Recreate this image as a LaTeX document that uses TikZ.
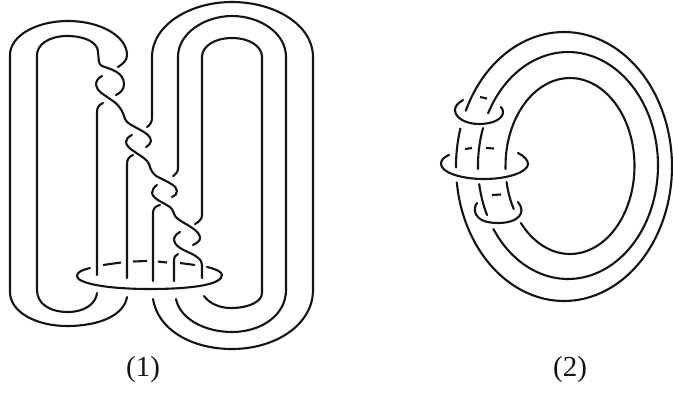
\documentclass[tikz,border=0pt]{standalone}
\usepackage{fontspec}
\setmainfont{Liberation Serif}
\tikzset{
  knot/.style={line width=2.1pt,black!92,line cap=round,line join=round},
  ringback/.style={line width=2.1pt,black!92,line cap=butt},
  caption/.style={font=\fontsize{29}{32}\selectfont,inner sep=0pt,text=black!92}
}
\newcommand{\ellarc}[6]{plot[smooth,domain=#5:#6,samples=60] ({#1+#3*cos(\x)},{#2+#4*sin(\x)})}
\begin{document}
\begin{tikzpicture}[x=1pt,y=-1pt]
\useasboundingbox (0,0) rectangle (673,392);
\fill[white] (0,0) rectangle (673,392);
% ---- figure 1: left outer and inner bands
\draw[knot] (118,67) .. controls (124,63) and (127,60) .. (127,55) .. controls (127,36) and (100,21) .. (68,21) .. controls (36,21) and (10,36) .. (10,55) -- (10,292) .. controls (10,312) and (36,326) .. (67,326) .. controls (100,326) and (124,315) .. (127,297);
\draw[knot] (97,293) .. controls (96,304) and (84,312) .. (68,312) .. controls (50,312) and (37,304) .. (37,290) -- (37,55) .. controls (37,44) and (50,36) .. (67,36) .. controls (84,36) and (98,42) .. (98,52) .. controls (99,60) and (98,64) .. (102,66) .. controls (110,69) and (124,72) .. (124,84) .. controls (124,90) and (120,93) .. (116,95);
% ---- twists
\draw[knot] (102,76) .. controls (98,78) and (96,81) .. (96,85) .. controls (97,92) and (105,95) .. (110,99) .. controls (120,105) and (123,112) .. (125,119) .. controls (128,127) and (151,131) .. (151,141) .. controls (151,143) and (149,145) .. (146,147);
\draw[knot] (103,103) .. controls (99,105) and (97,107) .. (97,112) -- (97,275);
\draw[knot] (132,135) .. controls (128,137) and (126,139) .. (126,142) .. controls (126,150) and (146,156) .. (149,164) .. controls (151,171) and (153,175) .. (160,178) .. controls (168,182) and (177,186) .. (177,191) .. controls (177,194) and (175,196) .. (172,197);
\draw[knot] (133,155) .. controls (129,157) and (127,159) .. (127,164) -- (127,278);
\draw[knot] (157,185) .. controls (154,187) and (152,190) .. (152,193) .. controls (153,200) and (168,204) .. (172,209) .. controls (174,213) and (174,216) .. (178,219) .. controls (186,225) and (200,230) .. (200,238) .. controls (200,241) and (197,243) .. (193,245);
\draw[knot] (160,205) .. controls (156,206) and (153,208) .. (153,213) -- (153,281);
\draw[knot] (180,232) .. controls (176,234) and (174,237) .. (174,240) .. controls (175,249) and (191,252) .. (197,257) .. controls (201,260) and (202,262) .. (202,265) -- (202,278);
\draw[knot] (178,254) .. controls (175,255) and (174,257) .. (174,262) -- (174,281);
% ---- figure 1: right bands
\draw[knot] (147,127) .. controls (150,125) and (152,122) .. (152,118) -- (152,57) .. controls (152,25) and (190,2) .. (232,2) .. controls (275,2) and (313,25) .. (313,57) -- (313,290) .. controls (313,325) and (275,349) .. (232,349) .. controls (192,349) and (158,330) .. (153,299);
\draw[knot] (173,176) .. controls (176,174) and (178,172) .. (178,168) -- (178,57) .. controls (178,33) and (205,16) .. (232,16) .. controls (260,16) and (286,33) .. (286,57) -- (286,290) .. controls (286,316) and (260,332) .. (232,332) .. controls (205,332) and (180,319) .. (176,299);
\draw[knot] (195,224) .. controls (199,222) and (202,219) .. (202,215) -- (202,57) .. controls (202,46) and (215,38) .. (232,38) .. controls (249,38) and (262,46) .. (262,57) -- (262,293) .. controls (262,302) and (248,308) .. (231,308) .. controls (219,308) and (209,303) .. (204,296);
% ---- ring of figure 1
\draw[knot] (90,268) .. controls (82,270) and (77,272) .. (77,276) .. controls (77,283) and (105,289) .. (150,289) .. controls (195,289) and (222,284) .. (222,275) .. controls (222,272) and (216,269) .. (207,267);
\draw[ringback] (103,265) -- (121,262.5);
\draw[ringback] (133,261.5) -- (147,261);
\draw[ringback] (158,261.5) -- (167,262.5);
\draw[ringback] (180,263) -- (195,265);
% ---- figure 2: ellipses
\draw[knot] \ellarc{564}{166.5}{108}{134.5}{204.5}{533.2};
\draw[knot] \ellarc{564}{166.5}{108}{134.5}{179.6}{196.4};
\draw[knot] \ellarc{568}{165.5}{90}{113.5}{207.4}{506};
\draw[knot] \ellarc{568}{165.5}{90}{113.5}{178.2}{199.3};
\draw[knot] \ellarc{568}{165.5}{90}{113.5}{154.1}{170.6};
\draw[knot] \ellarc{570}{166}{64.5}{88}{178}{499.6};
\draw[knot] \ellarc{570}{166}{64.5}{88}{150.7}{169.5};
% ---- figure 2: rings
\draw[knot] (463,100) .. controls (458,103) and (455,106) .. (455,110) .. controls (455,118) and (466,124) .. (479,124) .. controls (493,124) and (503,119) .. (503,112) .. controls (503,110) and (502,108) .. (501,107);
\draw[knot] (449,155) .. controls (444,157) and (441,160) .. (441,164) .. controls (441,172) and (460,179) .. (484,179) .. controls (508,179) and (528,172) .. (528,164) .. controls (528,160) and (524,156) .. (518,153);
\draw[knot] (477,203) .. controls (473,208) and (472,223) .. (498,223) .. controls (518,223) and (527,213) .. (518,202);
% ---- figure 2: hidden dashes
\draw[ringback] (480,97) -- (487,98.5);
\draw[ringback] (465,149) -- (472,148);
\draw[ringback] (486,148) -- (494,148.5);
\draw[ringback] (492,195) -- (501,194.5);
% ---- captions
\node[caption] (capone) at (143,370) {(1)};
\node[caption] (captwo) at (570,370) {(2)};
\end{tikzpicture}
\end{document}
